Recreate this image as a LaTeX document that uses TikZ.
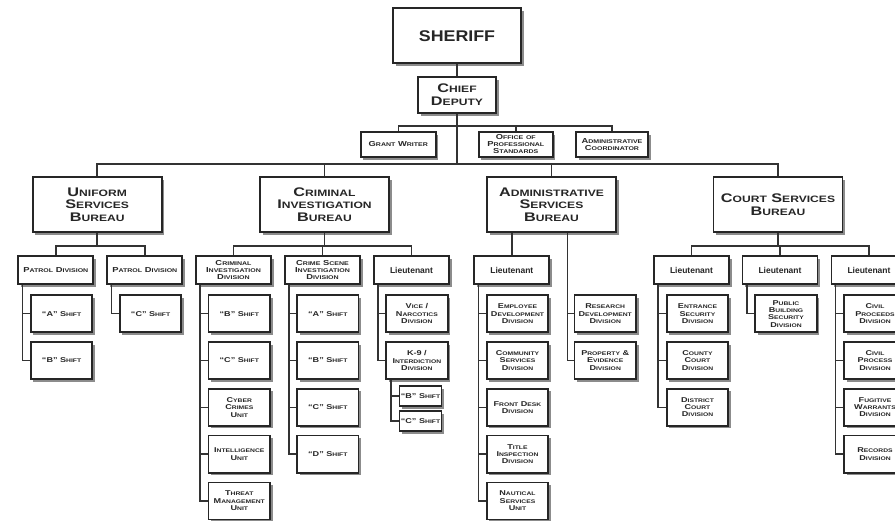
\documentclass[tikz,border=0pt]{standalone}
\usepackage{fontspec}
\setmainfont{Liberation Sans}
\newfontfamily\orgfont[FakeStretch=1.3]{Liberation Sans}
\newfontfamily\headfont[FakeStretch=1.15]{Liberation Sans}
\usetikzlibrary{positioning, shadows}

% fake small caps: first capital stays large, the rest is set small
\newcommand\scsize{\small}
\def\fscword#1#2\relax{\ifnum\lccode`#1=`#1\relax{\scsize\MakeUppercase{#1#2}}\else#1{\scsize\MakeUppercase{#2}}\fi}
\def\fscloop#1 #2\fscstop{\fscword#1\relax\if\relax\detokenize{#2}\relax\else\ \fscloop#2\fscstop\fi}
\newcommand\fsc[1]{\fscloop#1 \fscstop}

\tikzset{
    boxnode/.style = {draw=black!85, fill=white, rectangle, line width=1.8pt, inner sep=1pt,
      node distance=0em, text=black!85,
      drop shadow={shadow xshift=2.6pt, shadow yshift=-2.6pt, fill=black!45, opacity=1}},
    bossnode/.style = {boxnode, minimum width=128pt, minimum height=55pt,
      font=\headfont\bfseries\fontsize{15.5}{18}\selectfont},
    bureaunode/.style = {boxnode, minimum width=129pt, minimum height=55pt,
      font={\orgfont\bfseries\fontsize{12.5}{12.7}\selectfont\def\scsize{\fontsize{9.3}{12.7}\selectfont}}},
    chiefnode/.style = {bureaunode, minimum width=78pt, minimum height=36pt},
    staffnode/.style = {boxnode, minimum width=74pt, minimum height=25pt,
      font={\orgfont\bfseries\fontsize{7.2}{7}\selectfont\def\scsize{\fontsize{5.4}{7}\selectfont}}},
    divnode/.style = {staffnode, minimum width=75pt, minimum height=28pt},
    ltnode/.style = {boxnode, minimum width=75pt, minimum height=28pt,
      font=\bfseries\fontsize{8.5}{10}\selectfont},
    unitnode/.style = {boxnode, minimum width=61.5pt, minimum height=37pt,
      font={\orgfont\bfseries\fontsize{7}{7.3}\selectfont\def\scsize{\fontsize{5.2}{7.3}\selectfont}}},
    smallunitnode/.style = {unitnode, minimum width=42pt, minimum height=20pt},
    connect/.style = {draw=black!80, line width=1.5pt},
    every text node part/.style={align=center}
}

\begin{document}
\begin{tikzpicture}[x=1pt, y=-1pt]
\useasboundingbox (0,0) rectangle (895,521);
\clip (0,0) rectangle (895,521);

% top of the chart
\node [bossnode, name=sheriff] at (457,35.7) {SHERIFF};
\node [chiefnode, name=chief, below of=sheriff, yshift=-59.3pt] {\fsc{Chief}\\\fsc{Deputy}};

\node [staffnode, name=grant, minimum width=75pt] at (398.3,144.5) {\fsc{Grant Writer}};
\node [staffnode, name=ops, right of=grant, xshift=117.5pt] {\fsc{Office of}\\\fsc{Professional}\\\fsc{Standards}};
\node [staffnode, name=admco, right of=ops, xshift=96.2pt, minimum width=72pt] {\fsc{Administrative}\\\fsc{Coordinator}};

\coordinate (staffbus) at (457,126);
\coordinate (mainbus) at (457,164);

% bureaus
\node [bureaunode, name=usb] at (97.2,204.5) {\fsc{Uniform}\\\fsc{Services}\\\fsc{Bureau}};
\node [bureaunode, name=cib, right of=usb, xshift=227.3pt] {\fsc{Criminal}\\\fsc{Investigation}\\\fsc{Bureau}};
\node [bureaunode, name=asb, right of=cib, xshift=227pt] {\fsc{Administrative}\\\fsc{Services}\\\fsc{Bureau}};
\node [bureaunode, name=csb, right of=asb, xshift=226.5pt] {\fsc{Court Services}\\\fsc{Bureau}};

% uniform services
\node [divnode, name=pd1] at (55.8,270) {\fsc{Patrol Division}};
\node [divnode, name=pd2, right of=pd1, xshift=89pt] {\fsc{Patrol Division}};
\node [unitnode, name=pda, below of=pd1, xshift=5.8pt, yshift=-43.7pt] {“A” \fsc{Shift}};
\node [unitnode, name=pdb, below of=pda, yshift=-46.8pt] {“B” \fsc{Shift}};
\node [unitnode, name=pdc, below of=pd2, xshift=5.8pt, yshift=-43.7pt] {“C” \fsc{Shift}};

% criminal investigation
\node [divnode, name=cid] at (233.5,270) {\fsc{Criminal}\\\fsc{Investigation}\\\fsc{Division}};
\node [divnode, name=csid, right of=cid, xshift=89pt] {\fsc{Crime Scene}\\\fsc{Investigation}\\\fsc{Division}};
\node [ltnode, name=cilt, right of=csid, xshift=89pt] {Lieutenant};

\node [unitnode, name=cidb, below of=cid, xshift=5.8pt, yshift=-43.7pt] {“B” \fsc{Shift}};
\node [unitnode, name=cidc, below of=cidb, yshift=-46.8pt] {“C” \fsc{Shift}};
\node [unitnode, name=cyber, below of=cidc, yshift=-46.8pt] {\fsc{Cyber}\\\fsc{Crimes}\\\fsc{Unit}};
\node [unitnode, name=intel, below of=cyber, yshift=-46.8pt] {\fsc{Intelligence}\\\fsc{Unit}};
\node [unitnode, name=threat, below of=intel, yshift=-46.8pt] {\fsc{Threat}\\\fsc{Management}\\\fsc{Unit}};

\node [unitnode, name=csa, below of=csid, xshift=5.3pt, yshift=-43.7pt] {“A” \fsc{Shift}};
\node [unitnode, name=csb2, below of=csa, yshift=-46.8pt] {“B” \fsc{Shift}};
\node [unitnode, name=csc, below of=csb2, yshift=-46.8pt] {“C” \fsc{Shift}};
\node [unitnode, name=csd, below of=csc, yshift=-46.8pt] {“D” \fsc{Shift}};

\node [unitnode, name=vice, below of=cilt, xshift=5.4pt, yshift=-43.7pt] {\fsc{Vice} /\\\fsc{Narcotics}\\\fsc{Division}};
\node [unitnode, name=knine, below of=vice, yshift=-46.8pt] {K-9 /\\\fsc{Interdiction}\\\fsc{Division}};
\node [smallunitnode, name=kb, below of=knine, xshift=3.6pt, yshift=-35.7pt] {“B” \fsc{Shift}};
\node [smallunitnode, name=kc, below of=kb, yshift=-25pt] {“C” \fsc{Shift}};

% administrative services
\node [ltnode, name=aslt] at (511.8,270) {Lieutenant};
\node [unitnode, name=empl, below of=aslt, xshift=5.7pt, yshift=-43.7pt] {\fsc{Employee}\\\fsc{Development}\\\fsc{Division}};
\node [unitnode, name=comm, below of=empl, yshift=-46.8pt] {\fsc{Community}\\\fsc{Services}\\\fsc{Division}};
\node [unitnode, name=desk, below of=comm, yshift=-46.8pt] {\fsc{Front Desk}\\\fsc{Division}};
\node [unitnode, name=title, below of=desk, yshift=-46.8pt] {\fsc{Title}\\\fsc{Inspection}\\\fsc{Division}};
\node [unitnode, name=naut, below of=title, yshift=-46.8pt] {\fsc{Nautical}\\\fsc{Services}\\\fsc{Unit}};
\node [unitnode, name=research] at (605.2,313.7) {\fsc{Research}\\\fsc{Development}\\\fsc{Division}};
\node [unitnode, name=property, below of=research, yshift=-46.8pt] {\fsc{Property} \&\\\fsc{Evidence}\\\fsc{Division}};

% court services
\node [ltnode, name=colt1] at (691.5,270) {Lieutenant};
\node [ltnode, name=colt2, right of=colt1, xshift=88.5pt] {Lieutenant};
\node [ltnode, name=colt3, right of=colt2, xshift=89pt] {Lieutenant};
\node [unitnode, name=entr, below of=colt1, xshift=6pt, yshift=-43.7pt] {\fsc{Entrance}\\\fsc{Security}\\\fsc{Division}};
\node [unitnode, name=county, below of=entr, yshift=-46.8pt] {\fsc{County}\\\fsc{Court}\\\fsc{Division}};
\node [unitnode, name=district, below of=county, yshift=-46.8pt] {\fsc{District}\\\fsc{Court}\\\fsc{Division}};
\node [unitnode, name=public, below of=colt2, xshift=6pt, yshift=-43.7pt] {\fsc{Public}\\\fsc{Building}\\\fsc{Security}\\\fsc{Division}};
\node [unitnode, name=proceeds, below of=colt3, xshift=6pt, yshift=-43.7pt] {\fsc{Civil}\\\fsc{Proceeds}\\\fsc{Division}};
\node [unitnode, name=process, below of=proceeds, yshift=-46.8pt] {\fsc{Civil}\\\fsc{Process}\\\fsc{Division}};
\node [unitnode, name=fugitive, below of=process, yshift=-46.8pt] {\fsc{Fugitive}\\\fsc{Warrants}\\\fsc{Division}};
\node [unitnode, name=records, below of=fugitive, yshift=-46.8pt] {\fsc{Records}\\\fsc{Division}};

% bureau level drops
\coordinate (usbbus) at ([yshift=-13pt]usb.south);
\coordinate (cibbus) at ([yshift=-13pt]cib.south);
\coordinate (csbbus) at ([yshift=-13pt]csb.south);

% lines
\draw [connect] (sheriff) -- (chief);
\draw [connect] (chief) -- (mainbus);
\draw [connect] (grant.north) |- (staffbus) -| (admco.north);
\draw [connect] (ops.north) -- (ops.north |- staffbus);
\draw [connect] (usb.north) |- (mainbus) -| (csb.north);
\draw [connect] (cib.north) -- (cib.north |- mainbus);
\draw [connect] (asb.north) -- (asb.north |- mainbus);

\draw [connect] (usb.south) -- (usbbus);
\draw [connect] (pd1.north) |- (usbbus) -| (pd2.north);
\draw [connect] (cib.south) -- (cibbus);
\draw [connect] (cid.north) |- (cibbus) -| (cilt.north);
\draw [connect] (csid.north) -- (csid.north |- cibbus);
\draw [connect] (asb.south -| aslt.north) -- (aslt.north);
\draw [connect] (csb.south) -- (csbbus);
\draw [connect] (colt1.north) |- (csbbus) -| (colt3.north);
\draw [connect] (colt2.north) -- (colt2.north |- csbbus);

\draw [connect] ([xshift=5pt]pd1.south west) |- (pda.west) ([xshift=5pt]pd1.south west) |- (pdb.west);
\draw [connect] ([xshift=5pt]pd2.south west) |- (pdc.west);
\draw [connect] ([xshift=5pt]cid.south west) |- (cidb.west) ([xshift=5pt]cid.south west) |- (cidc.west)
    ([xshift=5pt]cid.south west) |- (cyber.west) ([xshift=5pt]cid.south west) |- (intel.west)
    ([xshift=5pt]cid.south west) |- (threat.west);
\draw [connect] ([xshift=5pt]csid.south west) |- (csa.west) ([xshift=5pt]csid.south west) |- (csb2.west)
    ([xshift=5pt]csid.south west) |- (csc.west) ([xshift=5pt]csid.south west) |- (csd.west);
\draw [connect] ([xshift=5pt]cilt.south west) |- (vice.west) ([xshift=5pt]cilt.south west) |- (knine.west);
\draw [connect] ([xshift=5.5pt]knine.south west) |- (kb.west) ([xshift=5.5pt]knine.south west) |- (kc.west);
\draw [connect] ([xshift=5pt]aslt.south west) |- (empl.west) ([xshift=5pt]aslt.south west) |- (comm.west)
    ([xshift=5pt]aslt.south west) |- (desk.west) ([xshift=5pt]aslt.south west) |- (title.west)
    ([xshift=5pt]aslt.south west) |- (naut.west);
\draw [connect] ([xshift=16pt]asb.south) |- (research.west) ([xshift=16pt]asb.south) |- (property.west);
\draw [connect] ([xshift=5pt]colt1.south west) |- (entr.west) ([xshift=5pt]colt1.south west) |- (county.west)
    ([xshift=5pt]colt1.south west) |- (district.west);
\draw [connect] ([xshift=5.5pt]colt2.south west) |- (public.west);
\draw [connect] ([xshift=5pt]colt3.south west) |- (proceeds.west) ([xshift=5pt]colt3.south west) |- (process.west)
    ([xshift=5pt]colt3.south west) |- (fugitive.west) ([xshift=5pt]colt3.south west) |- (records.west);
\end{tikzpicture}
\end{document}
